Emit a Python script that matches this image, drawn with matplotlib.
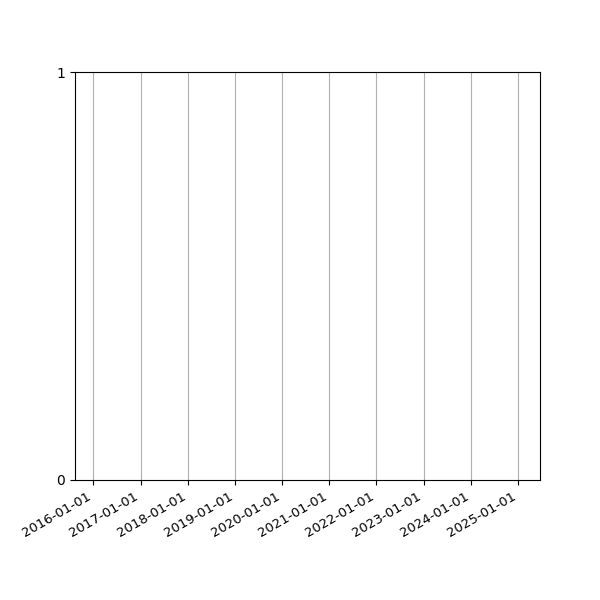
import matplotlib
matplotlib.use("Agg")
import matplotlib.pyplot as plt
import matplotlib.dates as mdates
import pandas as pd

# visible date window of the (empty) chart
x_start = pd.Timestamp("2015-08-12")
x_end = pd.Timestamp("2025-06-20")
y_ticks = [0, 1]

fig, ax = plt.subplots(figsize=(6, 6), dpi=100)

ax.set_xlim(x_start, x_end)
ax.set_ylim(0, 1)
ax.set_yticks(y_ticks)

ax.xaxis.set_major_locator(mdates.YearLocator())
ax.xaxis.set_major_formatter(mdates.DateFormatter("%Y-%m-%d"))
ax.grid(axis="x")

fig.autofmt_xdate()
ax.tick_params(axis="x", labelsize=9.5)
fig.savefig("out.png")
